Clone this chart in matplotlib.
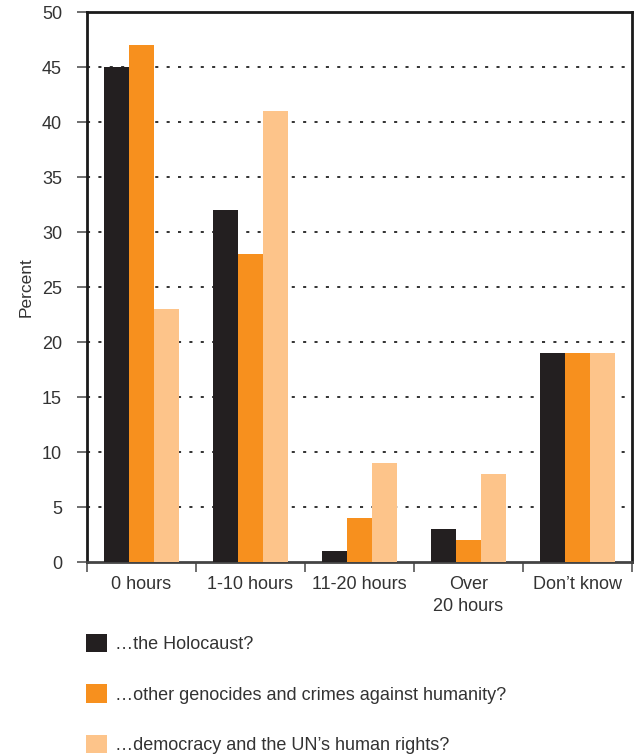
import matplotlib
matplotlib.use("Agg")
import matplotlib.pyplot as plt
import numpy as np

categories = ["0 hours", "1-10 hours", "11-20 hours", "Over\n20 hours", "Don\u2019t know"]
holocaust = [45, 32, 1, 3, 19]
other_genocides = [47, 28, 4, 2, 19]
democracy_rights = [23, 41, 9, 8, 19]
series_labels = [
    "\u2026the Holocaust?",
    "\u2026other genocides and crimes against humanity?",
    "\u2026democracy and the UN\u2019s human rights?",
]
series_colors = ["#231f20", "#f7901e", "#fdc48a"]
y_ticks = [0, 5, 10, 15, 20, 25, 30, 35, 40, 45, 50]

plt.rcParams["font.family"] = ["Liberation Sans", "DejaVu Sans"]
text_color = "#333333"
fs = 13

fig = plt.figure(figsize=(6.43, 7.54), dpi=100)
ax = fig.add_axes([0.1353, 0.2546, 0.8476, 0.7294])

x = np.arange(len(categories))
width = 0.227
bars = []
for i, (values, color, label) in enumerate(
    zip([holocaust, other_genocides, democracy_rights], series_colors, series_labels)
):
    b = ax.bar(x + (i - 1) * width, values, width, color=color, label=label,
               zorder=3, linewidth=0)
    bars.append(b)

ax.set_xlim(-0.5, len(categories) - 0.5)
ax.set_ylim(0, 50)
ax.set_yticks(y_ticks)
ax.set_yticklabels([str(t) for t in y_ticks], fontsize=fs, color=text_color)

# dotted reference lines at each 5 percent
for t in y_ticks[1:-1]:
    ax.axhline(t, color="#222222", linewidth=1.3, linestyle=(0, (1.7, 4.6)), zorder=1)

ax.set_xticks(x)
ax.set_xticklabels(categories, fontsize=fs, color=text_color, linespacing=1.4)
ax.set_xticks(np.arange(len(categories) + 1) - 0.5, minor=True)
ax.tick_params(axis="x", which="major", length=0, pad=10)
ax.tick_params(axis="x", which="minor", length=7, width=1.2, color="#555555")
ax.tick_params(axis="y", length=7, width=1.2, color="#555555", pad=11)

for side in ["left", "top", "right"]:
    ax.spines[side].set_linewidth(2)
    ax.spines[side].set_color("#1a1a1a")
ax.spines["bottom"].set_linewidth(2)
ax.spines["bottom"].set_color("#444444")

ax.set_ylabel("Percent", fontsize=12.5, color=text_color, labelpad=6)

fig.legend(
    handles=bars,
    labels=series_labels,
    loc="upper left",
    bbox_to_anchor=(0.108, 0.181),
    frameon=False,
    fontsize=fs,
    handlelength=1.17,
    handleheight=1.17,
    handletextpad=0.45,
    labelspacing=1.74,
    labelcolor=text_color,
)

fig.savefig("out.png", dpi=100)
